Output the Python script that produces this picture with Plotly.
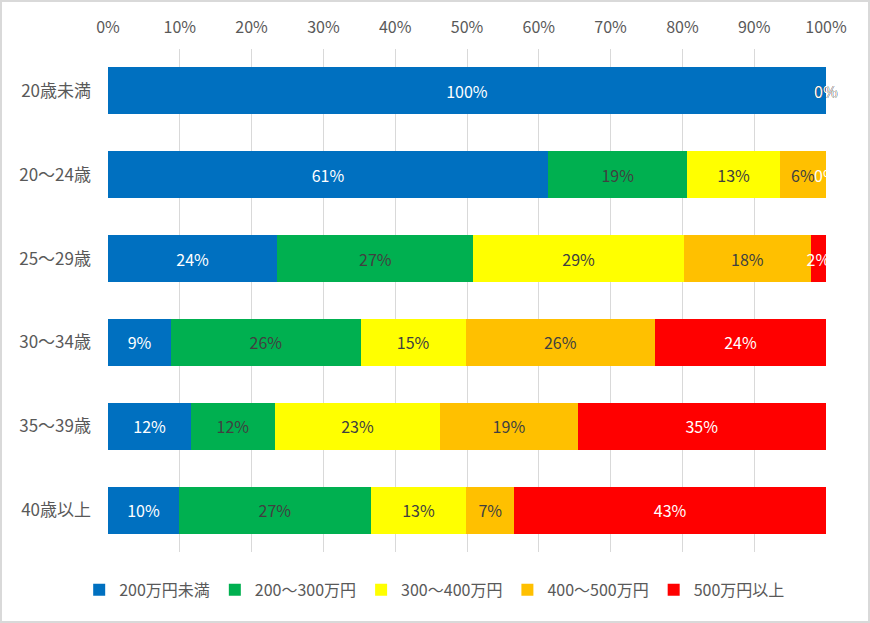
import plotly.graph_objects as go

categories = ["20歳未満", "20～24歳", "25～29歳", "30～34歳", "35～39歳", "40歳以上"]
series_names = ["200万円未満", "200～300万円", "300～400万円", "400～500万円", "500万円以上"]
s_under200 = [100.0, 61.3, 23.6, 8.8, 11.6, 9.9]
s_200_300 = [0.0, 19.4, 27.3, 26.4, 11.6, 26.7]
s_300_400 = [0.0, 12.9, 29.3, 14.6, 23.1, 13.3]
s_400_500 = [0.0, 6.4, 17.7, 26.4, 19.1, 6.7]
s_over500 = [0.0, 0.0, 2.1, 23.8, 34.6, 43.4]
tick_vals = [0, 10, 20, 30, 40, 50, 60, 70, 80, 90, 100]
tick_text = [f"{v}%" for v in tick_vals]

series_values = [s_under200, s_200_300, s_300_400, s_400_500, s_over500]
colors = ["#0070C0", "#00B050", "#FFFF00", "#FFC000", "#FF0000"]
text_colors = ["#FFFFFF", "#404040", "#404040", "#404040", "#FFFFFF"]
FONT = "Noto Sans CJK JP"
FS = 16

fig = go.Figure()
annotations = []
cum = [0.0] * len(categories)
for name, vals, col, tcol in zip(series_names, series_values, colors, text_colors):
    fig.add_trace(go.Bar(
        y=categories, x=vals, name=name, orientation="h",
        marker=dict(color=col, line=dict(width=0)),
        texttemplate="%{x:.0f}%", textposition="inside", insidetextanchor="middle",
        textangle=0, constraintext="none",
        textfont=dict(color=tcol, size=FS, family=FONT),
        hoverinfo="skip",
    ))
    for i, v in enumerate(vals):
        if v == 0 and cum[i] > 0:
            annotations.append(dict(
                x=cum[i], y=categories[i], xref="x", yref="y",
                text=f"{v:.0f}%", showarrow=False,
                font=dict(color=tcol, size=FS, family=FONT),
            ))
        cum[i] += v

W, H = 870, 623
ml, mr, mt, mb = 108, 44, 49, 71
pw, ph = W - ml - mr, H - mt - mb

shapes = [dict(type="rect", xref="paper", yref="paper",
               x0=(-ml + 1) / pw, x1=(W - ml - 1) / pw,
               y0=(-mb + 1) / ph, y1=(H - mb - 1) / ph,
               line=dict(color="#D9D9D9", width=2), fillcolor="rgba(0,0,0,0)", layer="below")]

fig.update_layout(
    width=W, height=H,
    margin=dict(l=ml, r=mr, t=mt, b=mb, autoexpand=False),
    barmode="stack", bargap=0.44,
    plot_bgcolor="white", paper_bgcolor="white",
    font=dict(family=FONT, size=FS, color="#595959"),
    xaxis=dict(side="top", range=[0, 100], tickmode="array", tickvals=tick_vals, ticktext=tick_text,
               showgrid=True, gridcolor="#D9D9D9", gridwidth=1, zeroline=False,
               showline=False, ticks="", ticklabelstandoff=12, tickangle=0,
               tickfont=dict(size=FS, color="#595959"),
               fixedrange=True),
    yaxis=dict(autorange="reversed", showgrid=False, zeroline=False, ticks="",
               ticklabelstandoff=16,
               tickfont=dict(size=17, color="#595959"), fixedrange=True),
    legend=dict(orientation="h", x=0.455, xanchor="center",
                y=-0.075, yanchor="middle", traceorder="normal",
                font=dict(size=FS, color="#595959"), itemwidth=30,
                itemclick=False, itemdoubleclick=False),
    showlegend=True,
    annotations=annotations,
    shapes=shapes,
)

fig.write_html("out.html")
